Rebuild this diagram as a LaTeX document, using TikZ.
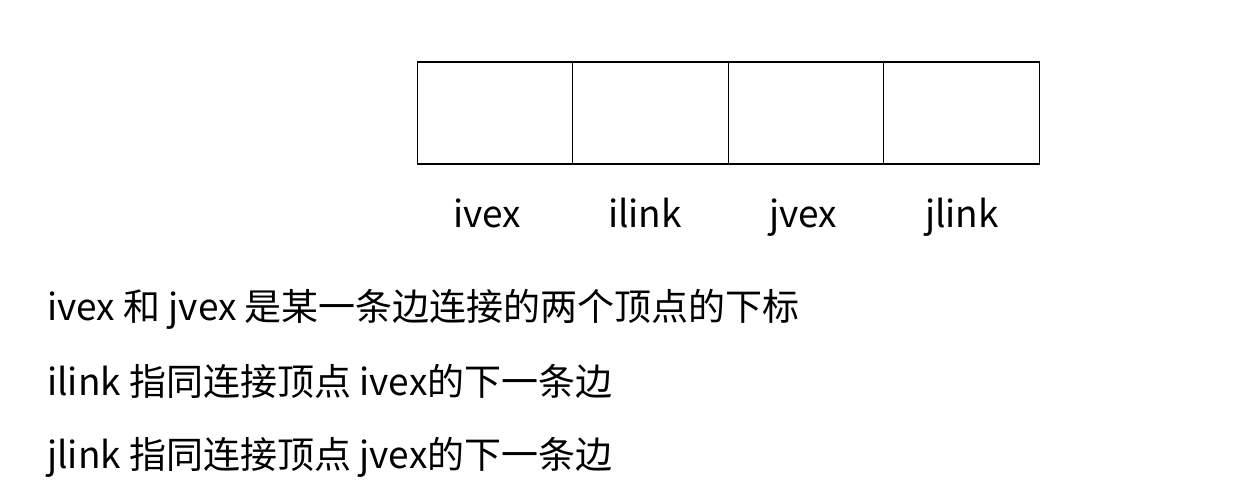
\documentclass[tikz,border=0pt]{standalone}
\usepackage{fontspec}
\setmainfont{Noto Sans CJK SC}
\usetikzlibrary{positioning}

\begin{document}
\begin{tikzpicture}[x=1pt,y=-1pt, node distance=0pt,
	cell/.style={draw, line width=1.3pt, minimum width=155.5pt, minimum height=102pt, inner sep=0pt, outer sep=0pt},
	field/.style={anchor=base, font=\fontsize{37}{40}\selectfont},
	note/.style={anchor=base west, font=\fontsize{37}{40}\selectfont, inner sep=0pt}]
		\useasboundingbox (0,0) rectangle (1245,494);
		\node[cell] (c1) at (495,113) {};
		\node[cell] (c2) [right=of c1] {};
		\node[cell] (c3) [right=of c2] {};
		\node[cell] (c4) [right=of c3] {};

		\node[field] (ivex) at (487,228) {ivex};
		\node[field] (ilink) at (645,228) {ilink};
		\node[field] (jvex) at (803,228) {jvex};
		\node[field] (jlink) at (962,228) {jlink};

		\node[note] (l1) at (47,320) {ivex 和 jvex 是某一条边连接的两个顶点的下标};
		\node[note] (l2) at (47,395) {ilink 指同连接顶点 ivex的下一条边};
		\node[note] (l3) at (47,468) {jlink 指同连接顶点 jvex的下一条边};
	\end{tikzpicture}
\end{document}
